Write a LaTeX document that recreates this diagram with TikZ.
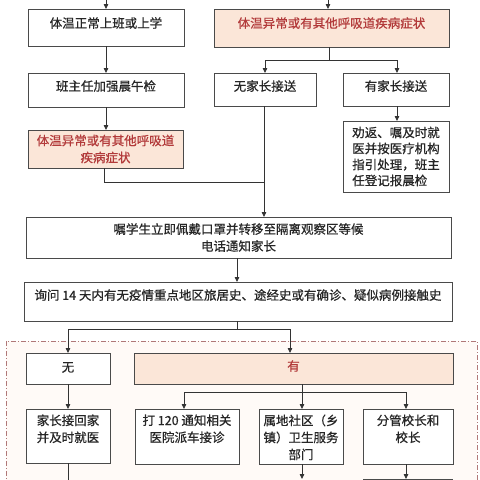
\documentclass[tikz,border=0pt]{standalone}
\usepackage{fontspec}
\setmainfont{Noto Sans CJK SC}[FakeBold=0.6]
\usetikzlibrary{arrows.meta}
\definecolor{peach}{HTML}{FBE6D8}
\definecolor{redtxt}{HTML}{B23A3A}
\definecolor{edgegray}{HTML}{4A4A4A}
\definecolor{regionline}{HTML}{B07878}
\definecolor{regionfill}{HTML}{FFFAF7}
\newcommand{\mytopbox}[3]{\parbox[c][#1][t]{#2}{\centering #3}}
\begin{document}
\begin{tikzpicture}[x=1pt,y=-1pt,
  box/.style={draw=edgegray, line width=0.8pt, fill=white, rectangle, inner sep=0pt, outer sep=0pt,
    align=center, font=\fontsize{12.5}{17}\selectfont, text=black!85},
  hot/.style={box, fill=peach, text=redtxt},
  raise/.style={text height=10.5pt, text depth=#1},
  link/.style={draw=black!80, line width=0.8pt},
  arr/.style={link, -{Triangle[length=5pt,width=4.5pt]}}]
\useasboundingbox (0,0) rectangle (480,480);
\clip (0,0) rectangle (480,480);
% region
\draw[regionline, line width=0.8pt, dash pattern=on 5pt off 2pt on 1pt off 2pt, fill=regionfill]
  (6,341) rectangle (477,520);
% left column
\node[box, raise=9.9pt, minimum width=156pt, minimum height=37pt] (n1) at (106,27.5) {体温正常上班或上学};
\node[box, raise=8.9pt, minimum width=156pt, minimum height=34pt] (n2) at (106,90) {班主任加强晨午检};
\node[hot, minimum width=155pt, minimum height=38pt] (n3) at (105.5,149) {体温异常或有其他呼吸道\\疾病症状};
% right column
\node[hot, raise=10.9pt, minimum width=235pt, minimum height=38pt] (r1) at (331.5,28) {体温异常或有其他呼吸道疾病症状};
\node[box, raise=7.9pt, minimum width=102pt, minimum height=33pt] (r2) at (265,89.5) {无家长接送};
\node[box, raise=7.9pt, minimum width=106pt, minimum height=33pt] (r3) at (396,89.5) {有家长接送};
\node[box, align=left, font=\fontsize{12.5}{16}\selectfont, minimum width=106pt, minimum height=71pt] (r4) at (396,156.5)
  {劝返、嘱及时就\\医并按医疗机构\\指引处理，班主\\任登记报晨检};
% middle
\node[box, minimum width=425pt, minimum height=41pt] (m1) at (238.5,237.5) {嘱学生立即佩戴口罩并转移至隔离观察区等候\\电话通知家长};
\node[box, raise=13.9pt, minimum width=428pt, minimum height=39pt] (m2) at (238,301.5) {询问 14 天内有无疫情重点地区旅居史、途经史或有确诊、疑似病例接触史};
% bottom region
\node[box, raise=4pt, minimum width=84pt, minimum height=31pt] (b1) at (68,368.5) {无};
\node[hot, raise=6pt, minimum width=319pt, minimum height=31pt] (b2) at (293.5,368.5) {有};
\node[box, minimum width=84pt, minimum height=54pt] (c1) at (68,436) {\mytopbox{43pt}{84pt}{家长接回家\\并及时就医}};
\node[box, minimum width=104pt, minimum height=55pt] (c2) at (187,436.5) {\mytopbox{44pt}{104pt}{打 120 通知相关\\医院派车接诊}};
\node[box, minimum width=84pt, minimum height=55pt] (c3) at (301,436.5) {\mytopbox{44pt}{84pt}{属地社区（乡\\镇）卫生服务\\部门}};
\node[box, minimum width=90pt, minimum height=55pt] (c4) at (408,436.5) {\mytopbox{44pt}{90pt}{分管校长和\\校长}};
\node[box, minimum width=89pt, minimum height=32pt] (d4) at (407.5,495) {};
% connectors
\coordinate (t1) at (106,0);
\coordinate (t2) at (328,0);
\draw[arr] (t1) -- (t1 |- n1.north);
\draw[arr] (t2) -- (t2 |- r1.north);
\draw[arr] (n1) -- (n2);
\draw[arr] (n2.south) -- (n2.south |- n3.north);
\coordinate (j1) at (264,182);
\draw[link] ([xshift=-1.5pt]n3.south) |- (j1);
\coordinate (s1) at (329,60);
\draw[link] (s1 |- r1.south) -- (s1);
\draw[arr] (s1) -| (r2.north);
\draw[arr] (s1) -| ([xshift=1pt]r3.north);
\draw[arr] ([xshift=-1pt]r2.south) -- ([xshift=-1pt]r2.south |- m1.north);
\draw[arr] ([xshift=1pt]r3.south) -- ([xshift=1pt]r3.south |- r4.north);
\draw[arr] ([xshift=-1.5pt]m1.south) -- ([xshift=-1.5pt]m1.south |- m2.north);
\coordinate (s2) at (237,329);
\draw[link] (s2 |- m2.south) -- (s2);
\draw[arr] (s2) -| (b1.north);
\draw[arr] (s2) -| ([xshift=-3.5pt]b2.north);
\draw[arr] (b1) -- (c1);
\coordinate (e1) at (68,485);
\draw[link] (c1.south) -- (e1);
\coordinate (s3) at (302,392);
\draw[link] (s3 |- b2.south) -- (s3);
\draw[arr] (s3) -| ([xshift=-3pt]c2.north);
\draw[arr] (s3) -- (s3 |- c3.north);
\draw[arr] (s3) -| ([xshift=-2pt]c4.north);
\coordinate (e3) at (302,479);
\draw[arr] (s3 |- c3.south) -- (e3);
\draw[arr] ([xshift=-2pt]c4.south) -- ([xshift=-2pt]c4.south |- d4.north);
\end{tikzpicture}
\end{document}
